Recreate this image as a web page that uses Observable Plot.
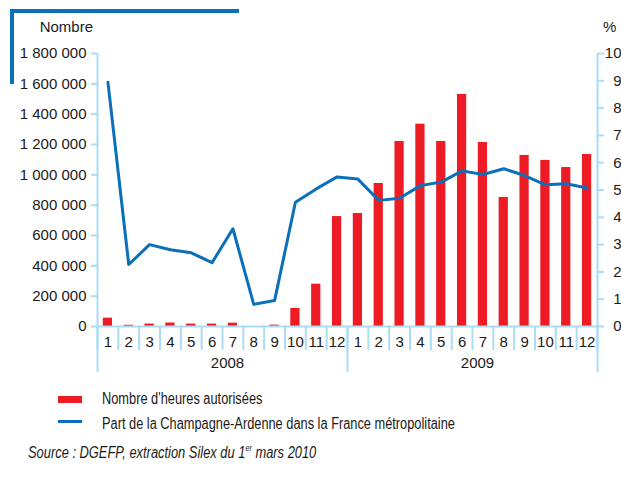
<!DOCTYPE html>
<html><head><meta charset="utf-8">
<script src="https://cdn.jsdelivr.net/npm/d3@7"></script>
<script src="https://cdn.jsdelivr.net/npm/@observablehq/plot@0.6"></script>
<style>
body{margin:0;background:#fff;}
#wrap{position:relative;width:621px;height:477px;font-family:Arial,"Liberation Sans",sans-serif;color:#1a1a1a;overflow:hidden;background:#fff;}
#chart{position:absolute;left:0;top:0;}
.deco-h{position:absolute;left:10px;top:9px;width:229px;height:4px;background:#0b70b9;}
.deco-v{position:absolute;left:10px;top:9px;width:4px;height:75px;background:#0b70b9;}
.unit{position:absolute;font-size:15px;line-height:18px;}
.leg{position:absolute;left:58px;font-family:Arial,"Liberation Sans",sans-serif;font-size:16px;line-height:18px;}
.sw{position:absolute;left:0;width:24px;}
.leg span.t{position:absolute;left:44px;top:0;white-space:nowrap;transform:scaleX(0.8);transform-origin:0 50%;}
.src{position:absolute;left:28px;top:444px;font-family:Arial,"Liberation Sans",sans-serif;font-style:italic;font-size:16px;line-height:18px;white-space:nowrap;transform:scaleX(0.805);transform-origin:0 50%;}
</style></head><body>
<div id="wrap">
  <div id="chart"></div>
  <div class="deco-h"></div><div class="deco-v"></div>
  <div class="unit" id="uL" style="right:528px;top:18px;">Nombre</div>
  <div class="unit" id="uR" style="left:603px;top:18px;">%</div>
  <div class="leg" style="top:390px;"><div class="sw" style="top:6px;height:7px;background:#ed1c24;"></div><span class="t">Nombre d'heures autorisées</span></div>
  <div class="leg" style="top:415px;"><div class="sw" style="top:5px;height:3px;background:#0b70b9;"></div><span class="t">Part de la Champagne-Ardenne dans la France métropolitaine</span></div>
  <div class="src">Source : DGEFP, extraction Silex du 1<sup style="font-size:9px;vertical-align:7px;line-height:0;">er</sup> mars 2010</div>
</div>
<script>
const months = ["1","2","3","4","5","6","7","8","9","10","11","12","1","2","3","4","5","6","7","8","9","10","11","12"];
const years = ["2008","2009"];
const hours = [55000, 8000, 16000, 23000, 16000, 16000, 22000, 0, 9000, 119000, 279000, 725000,
               745000, 943000, 1220000, 1334000, 1220000, 1530000, 1213000, 851000, 1128000, 1095000, 1048000, 1134000];
const share = [8.95, 2.27, 3.0, 2.81, 2.70, 2.34, 3.58, 0.81, 0.95, 4.55, 5.04, 5.48,
               5.40, 4.62, 4.70, 5.16, 5.29, 5.70, 5.57, 5.78, 5.53, 5.19, 5.23, 5.07];
const leftTicks = [0, 200000, 400000, 600000, 800000, 1000000, 1200000, 1400000, 1600000, 1800000];
const rightTicks = [0,1,2,3,4,5,6,7,8,9,10];

const SCALE = 180000; // 10 % on right axis = 1 800 000 on left axis
const axisColor = "#aadcf5";
const data = hours.map((h, i) => ({idx: i + 1, month: months[i], year: years[Math.floor(i / 12)], hours: h, share: share[i]}));
const bounds = d3.range(0, 25).map(i => i + 0.5);
const yearBounds = [0.5, 12.5, 24.5];

const chart = Plot.plot({
  width: 621, height: 380,
  marginLeft: 97, marginRight: 24, marginTop: 53, marginBottom: 54,
  style: {fontFamily: "Arial, 'Liberation Sans', sans-serif", fontSize: "15px", color: "#1a1a1a", background: "transparent", overflow: "visible"},
  x: {domain: [0.5, 24.5], axis: null},
  y: {domain: [0, 1800000], axis: null},
  marks: [
    Plot.rectY(data, {x1: d => d.idx - 0.5, x2: d => d.idx + 0.5, y: "hours", fill: "#ed1c24", insetLeft: 5.8, insetRight: 5.8}),
    Plot.ruleX([0.5, 24.5], {y1: 0, y2: 1800000, stroke: axisColor, strokeWidth: 2}),
    Plot.ruleY([0], {stroke: axisColor, strokeWidth: 2}),
    Plot.axisX({ticks: bounds, tickSize: 24, tickFormat: () => "", label: null, stroke: axisColor, strokeWidth: 2}),
    Plot.axisX({ticks: yearBounds, tickSize: 46, tickFormat: () => "", label: null, stroke: axisColor, strokeWidth: 2}),
    Plot.axisX({ticks: data.map(d => d.idx), tickSize: 0, tickPadding: 10, label: null, tickFormat: i => months[i - 1]}),
    Plot.text(years, {x: (d, i) => 6.5 + 12 * i, frameAnchor: "bottom", lineAnchor: "middle", dy: 37, dx: 5, text: d => d, fontSize: 15}),
    Plot.axisY({anchor: "left", ticks: leftTicks, tickSize: 6, tickPadding: 5, label: null, stroke: axisColor, strokeWidth: 2,
      tickFormat: d => d3.format(",")(d).replace(/,/g, " ")}),
    Plot.axisY({anchor: "right", ticks: rightTicks.map(v => v * SCALE), tickSize: 6, tickPadding: 18, textAnchor: "end", label: null,
      stroke: axisColor, strokeWidth: 2, tickFormat: d => String(Math.round(d / SCALE))}),
    Plot.line(data, {x: "idx", y: d => d.share * SCALE, stroke: "#0b70b9", strokeWidth: 3})
  ]
});
document.getElementById("chart").appendChild(chart);
</script>
</body></html>
